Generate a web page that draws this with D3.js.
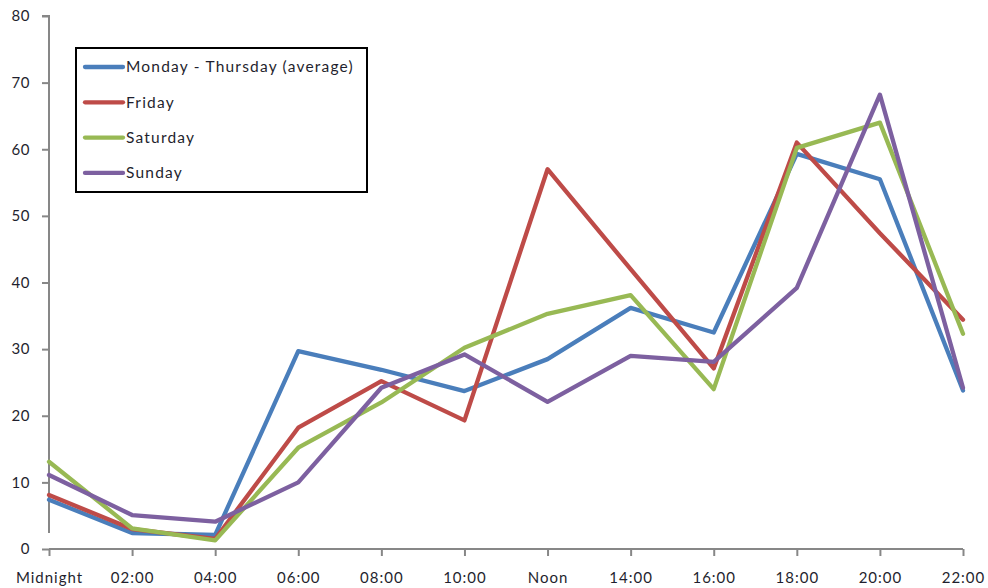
<!DOCTYPE html>
<html><head><meta charset="utf-8">
<script src="https://cdn.jsdelivr.net/npm/d3@7"></script>
<style>body{margin:0;background:#fff}svg{display:block}text{font-family:Lato,"Open Sans",sans-serif}</style>
</head><body><svg id="c" width="988" height="588"></svg>
<script>
const categories = ["Midnight","02:00","04:00","06:00","08:00","10:00","Noon","14:00","16:00","18:00","20:00","22:00"];
const monThu = [7.4, 2.4, 2.1, 29.7, 26.9, 23.7, 28.5, 36.2, 32.5, 59.3, 55.5, 23.8];
const friday = [8.1, 3.0, 1.5, 18.2, 25.2, 19.3, 57.0, 42.0, 27.1, 61.0, 47.4, 34.4];
const saturday = [13.1, 3.1, 1.3, 15.2, 22.0, 30.2, 35.3, 38.1, 24.0, 60.2, 64.0, 32.3];
const sunday = [11.1, 5.1, 4.1, 10.0, 24.2, 29.2, 22.1, 29.0, 28.1, 39.2, 68.2, 24.2];
const seriesNames = ["Monday - Thursday (average)","Friday","Saturday","Sunday"];
const seriesColors = ["#4A7EBB","#BE4B48","#98B954","#7D60A0"];
const yTicks = [0,10,20,30,40,50,60,70,80];

const series = [monThu, friday, saturday, sunday].map((v,i)=>({name:seriesNames[i], color:seriesColors[i], values:v}));
const svg = d3.select("#c");
const x = d3.scalePoint().domain(categories).range([49, 963]);
const y = d3.scaleLinear().domain([0,80]).range([549, 16]);

const yAxis = svg.append("g").attr("transform","translate(49,0)")
  .call(d3.axisLeft(y).tickValues(yTicks).tickSize(7).tickPadding(12).tickFormat(d3.format("d")));
const xAxis = svg.append("g").attr("transform","translate(0,549)")
  .call(d3.axisBottom(x).tickSize(7).tickPadding(16));
[yAxis,xAxis].forEach(a=>{
  a.select(".domain").attr("stroke","#878787").attr("stroke-width",2);
  a.selectAll(".tick line").attr("stroke","#878787").attr("stroke-width",2);
  a.selectAll("text").attr("fill","#1f1f2e").style("font-size","15px").style("font-family","Lato, sans-serif");
});
xAxis.selectAll("text").style("letter-spacing","1px");
yAxis.selectAll("text").style("letter-spacing","0.5px");
xAxis.select(".domain").attr("d","M49,0H963");
yAxis.select(".domain").attr("d","M-7,16H0V533");

const line = d3.line().x((d,i)=>x(categories[i])).y(d=>y(d));
svg.append("g").selectAll("path").data(series).join("path")
  .attr("d",d=>line(d.values)).attr("fill","none").attr("stroke",d=>d.color)
  .attr("stroke-width",4.3).attr("stroke-linejoin","round").attr("stroke-linecap","round");

const lg = svg.append("g");
lg.append("rect").attr("x",76).attr("y",48).attr("width",291).attr("height",144)
  .attr("fill","#fff").attr("stroke","#000").attr("stroke-width",2);
const rows = lg.selectAll("g").data(series).join("g")
  .attr("transform",(d,i)=>`translate(0,${67+i*35.3})`);
rows.append("line").attr("x1",85).attr("x2",123).attr("y1",0).attr("y2",0)
  .attr("stroke",d=>d.color).attr("stroke-width",4.3).attr("stroke-linecap","round");
rows.append("text").attr("x",126).attr("y",0).attr("dy","0.35em").attr("fill","#1f1f2e")
  .style("font-size","15.5px").style("letter-spacing","1.2px").text(d=>d.name);
</script></body></html>
